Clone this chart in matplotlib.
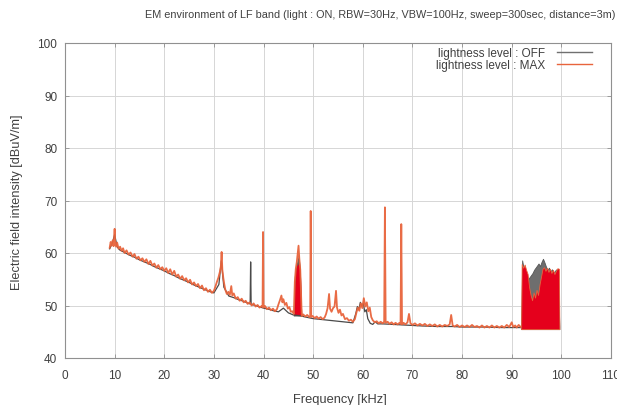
import matplotlib
matplotlib.use("Agg")
import matplotlib.pyplot as plt
from matplotlib.lines import Line2D

# ---------------- data ----------------
title = "EM environment of LF band (light : ON, RBW=30Hz, VBW=100Hz, sweep=300sec, distance=3m)"
xlabel = "Frequency [kHz]"
ylabel = "Electric field intensity [dBuV/m]"
legend_labels = ["lightness level : OFF", "lightness level : MAX"]
xticks = [0, 10, 20, 30, 40, 50, 60, 70, 80, 90, 100, 110]
yticks = [40, 50, 60, 70, 80, 90, 100]

# MAX trace (orange)
max_freq = [
    9.0, 9.2, 9.4, 9.6, 9.8, 9.9, 10.0, 10.1, 10.3, 10.5, 10.8, 11.1, 11.4, 11.7,
    12.0, 12.4, 12.8, 13.2, 13.6, 14.0, 14.4, 14.8, 15.2, 15.6, 16.0, 16.4, 16.8,
    17.2, 17.6, 18.0, 18.4, 18.8, 19.2, 19.6, 20.0, 20.4, 20.8, 21.2, 21.6, 22.0,
    22.4, 22.8, 23.2, 23.6, 24.0, 24.4, 24.8, 25.2, 25.6, 26.0, 26.4, 26.8, 27.2,
    27.6, 28.0, 28.4, 28.8, 29.2, 29.6, 30.0, 30.3, 30.6, 30.9, 31.2, 31.4, 31.55,
    31.7, 31.9, 32.1, 32.3, 32.6, 32.9, 33.2, 33.5, 33.7, 34.0, 34.4, 34.8, 35.2,
    35.6, 36.0, 36.4, 36.8, 37.2, 37.6, 38.0, 38.4, 38.8, 39.2, 39.6, 39.8, 39.9,
    40.0, 40.3, 40.7, 41.1, 41.5, 41.9, 42.3, 42.7, 43.0, 43.3, 43.6, 43.8, 44.0,
    44.3, 44.6, 44.9, 45.2, 45.5, 45.8, 46.1, 46.3, 46.5, 46.7, 46.9, 47.05, 47.2,
    47.4, 47.6, 47.7, 48.0, 48.4, 48.8, 49.2, 49.4, 49.5, 49.6, 49.9, 50.3, 50.7,
    51.1, 51.5, 51.9, 52.3, 52.6, 52.9, 53.2, 53.4, 53.7, 54.0, 54.3, 54.6, 54.8,
    55.1, 55.4, 55.7, 56.0, 56.4, 56.8, 57.2, 57.6, 58.0, 58.4, 58.7, 59.0, 59.3,
    59.6, 59.9, 60.2, 60.5, 60.8, 61.1, 61.4, 61.7, 62.0, 62.4, 62.8, 63.2, 63.6,
    64.0, 64.3, 64.45, 64.6, 65.0, 65.4, 65.8, 66.2, 66.6, 67.0, 67.4, 67.6, 67.75,
    67.9, 68.2, 68.6, 69.0, 69.3, 69.6, 70.0, 70.5, 71.0, 71.5, 72.0, 72.5, 73.0,
    73.5, 74.0, 74.5, 75.0, 75.5, 76.0, 76.5, 77.0, 77.5, 77.8, 78.1, 78.5, 79.0,
    79.5, 80.0, 80.5, 81.0, 81.5, 82.0, 82.5, 83.0, 83.5, 84.0, 84.5, 85.0, 85.5,
    86.0, 86.5, 87.0, 87.5, 88.0, 88.5, 89.0, 89.5, 90.0, 90.3, 90.7, 91.0, 91.4,
    91.8,
]
max_level = [
    61.0, 62.1, 61.4, 62.4, 61.3, 62.8, 64.6, 62.0, 61.2, 62.0, 60.8, 61.2, 60.4, 60.9,
    60.0, 60.5, 59.7, 60.1, 59.3, 59.8, 58.9, 59.3, 58.6, 59.0, 58.3, 58.8, 57.9,
    58.5, 57.6, 58.0, 57.2, 57.7, 56.9, 57.3, 56.6, 57.1, 56.2, 56.9, 55.9, 56.6,
    55.5, 55.9, 55.1, 55.6, 54.8, 55.2, 54.4, 54.9, 54.0, 54.4, 53.7, 54.1, 53.3,
    53.8, 52.9, 53.3, 52.6, 53.0, 52.4, 52.8, 53.6, 54.5, 55.3, 56.4, 57.5, 60.2,
    56.8, 55.2, 54.0, 53.0, 52.2, 52.6, 52.0, 53.7, 51.9, 52.3, 51.3, 51.6, 50.9,
    51.3, 50.6, 50.9, 50.3, 50.6, 50.0, 50.4, 49.8, 50.1, 49.6, 49.9, 49.7, 64.0,
    49.6, 49.9, 49.3, 49.6, 49.1, 49.4, 48.9, 49.3, 50.2, 51.0, 51.9, 50.6, 51.2,
    50.1, 50.5, 49.4, 49.7, 48.8, 48.9, 48.4, 54.5, 57.0, 58.3, 60.0, 61.4, 59.0,
    56.8, 51.0, 48.0, 48.3, 47.9, 48.2, 47.8, 48.0, 68.0, 47.8, 48.0, 47.6, 47.9,
    47.5, 47.8, 47.4, 47.7, 48.4, 49.5, 52.2, 49.4, 48.8, 49.5, 49.8, 52.8, 49.6,
    48.6, 49.2, 48.1, 48.4, 47.4, 47.6, 47.1, 47.3, 46.9, 47.4, 48.6, 49.6, 49.0,
    50.4, 49.5, 51.4, 49.8, 50.6, 48.9, 49.6, 47.8, 47.2, 46.8, 47.0, 46.6, 46.9,
    46.6, 46.9, 68.7, 46.7, 46.9, 46.5, 46.8, 46.4, 46.7, 46.4, 46.7, 46.5, 65.5,
    46.4, 46.7, 46.4, 46.8, 48.4, 46.6, 46.3, 46.6, 46.2, 46.5, 46.2, 46.5, 46.1,
    46.4, 46.1, 46.4, 46.0, 46.3, 46.0, 46.3, 46.1, 46.4, 48.2, 46.2, 46.0, 46.3,
    45.9, 46.2, 45.9, 46.2, 45.9, 46.3, 45.9, 46.1, 45.8, 46.2, 45.8, 46.1, 45.8,
    46.2, 45.8, 46.1, 45.8, 46.1, 45.8, 46.3, 45.9, 46.8, 45.9, 46.2, 45.8, 46.3,
    45.9,
]

# OFF trace (grey)
off_freq = [
    9.0, 9.5, 10.0, 10.5, 11.0, 12.0, 13.0, 14.0, 15.0, 16.0, 17.0, 18.0, 19.0,
    20.0, 21.0, 22.0, 23.0, 24.0, 25.0, 26.0, 27.0, 28.0, 29.0, 30.0, 31.0, 31.5,
    32.0, 33.0, 34.0, 35.0, 36.0, 37.0, 37.3, 37.4, 37.5, 38.0, 39.0, 40.0, 41.0,
    42.0, 43.0, 44.0, 45.0, 46.0, 47.8, 48.0, 49.0, 50.0, 51.0, 52.0, 53.0, 54.0,
    55.0, 56.0, 57.0, 58.0, 58.6, 58.9, 59.2, 59.5, 59.8, 60.1, 60.4, 60.7, 61.0,
    61.5, 62.0, 62.5, 63.0, 64.0, 66.0, 68.0, 70.0, 72.0, 75.0, 78.0, 80.0, 84.0,
    88.0, 91.8,
]
off_level = [
    60.8, 61.8, 63.5, 61.2, 60.6, 60.1, 59.6, 59.2, 58.7, 58.3, 57.9, 57.4, 57.0,
    56.6, 56.1, 55.7, 55.2, 54.8, 54.4, 53.9, 53.5, 53.1, 52.7, 52.4, 54.0, 58.5,
    53.5, 51.8, 51.5, 51.1, 50.8, 50.4, 50.3, 58.3, 50.2, 50.1, 49.8, 49.5, 49.3,
    49.0, 48.8, 49.5, 48.6, 48.2, 48.0, 47.9, 47.7, 47.5, 47.4, 47.3, 47.2, 47.1,
    47.0, 46.9, 46.8, 46.7, 48.5, 49.8, 49.2, 50.6, 49.9, 50.4, 48.8, 49.2, 47.5,
    46.6, 46.4, 46.9, 46.5, 46.5, 46.4, 46.3, 46.2, 46.1, 46.0, 46.0, 45.9, 45.9,
    45.8, 45.8,
]

# dense (filled-looking) bands: lower floor and upper envelope
max_band1_freq = [46.1, 46.3, 46.5, 46.7, 46.9, 47.05, 47.2, 47.4, 47.6, 47.7]
max_band1_top = [48.4, 54.5, 57.0, 57.6, 57.8, 58.0, 57.6, 56.8, 51.0, 48.0]
max_band1_floor = [48.2, 48.2, 48.2, 48.2, 48.1, 48.1, 48.1, 48.1, 48.0, 48.0]

off_band1_freq = [46.0, 46.2, 46.5, 46.8, 47.1, 47.4, 47.7]
off_band1_top = [48.2, 55.5, 57.5, 58.8, 59.8, 57.0, 48.0]
off_band1_floor = [48.0, 48.0, 48.0, 48.0, 48.0, 48.0, 48.0]

max_band2_freq = [91.9, 92.0, 92.3, 92.6, 92.9, 93.2, 93.5, 93.8, 94.1, 94.4,
                  94.7, 95.0, 95.3, 95.6, 95.9, 96.2, 96.5, 96.8, 97.1, 97.4,
                  97.7, 98.0, 98.3, 98.6, 98.9, 99.2, 99.5, 99.6]
max_band2_top = [46.0, 57.9, 57.2, 57.8, 56.8, 56.0, 53.5, 52.0, 51.0, 52.5,
                 51.5, 53.0, 52.0, 54.0, 55.5, 57.0, 57.3, 56.6, 57.2, 56.4,
                 57.0, 56.2, 56.8, 56.0, 56.6, 57.1, 57.0, 46.0]
band2_floor = 45.5

off_band2_freq = [91.9, 92.1, 92.4, 92.7, 93.0, 93.3, 93.6, 93.9, 94.2, 94.5,
                  94.8, 95.1, 95.4, 95.7, 96.0, 96.3, 96.6, 96.9, 97.2, 97.5,
                  97.8, 98.1, 98.4, 98.7, 99.0, 99.3, 99.6]
off_band2_top = [46.2, 58.6, 57.0, 56.5, 55.8, 55.0, 55.4, 55.8, 56.2, 56.8,
                 57.2, 57.6, 58.0, 57.5, 58.3, 58.9, 58.2, 57.4, 56.8, 57.2,
                 56.5, 56.9, 56.2, 56.6, 56.9, 56.0, 46.0]

# ---------------- style ----------------
off_color = "#4a4a4a"
max_color = "#e8643c"
band_color = "#e5001c"
text_color = "#404040"
font = ["Liberation Sans", "DejaVu Sans"]
plt.rcParams["font.family"] = font

W, H = 617, 406
fig = plt.figure(figsize=(W / 100, H / 100), dpi=100)
ax = fig.add_axes([65 / W, 1 - 359 / H, (611 - 65) / W, (359 - 44) / H])

ax.grid(True, color="#d6d6d6", linewidth=0.7)
ax.set_axisbelow(True)

# OFF
ax.fill_between(off_band1_freq, off_band1_floor, off_band1_top, color="#5a5a5a", linewidth=0)
ax.fill_between(off_band2_freq, band2_floor, off_band2_top, color="#6e6e6e", linewidth=0.6,
                edgecolor="#555555")
ax.plot(off_freq, off_level, color=off_color, linewidth=0.9)

# MAX
ax.plot(max_freq, max_level, color=max_color, linewidth=1.3, alpha=0.95)
ax.fill_between(max_band1_freq, max_band1_floor, max_band1_top, color=band_color, linewidth=0)
ax.fill_between(max_band2_freq, band2_floor, max_band2_top, color=band_color, linewidth=0.6,
                edgecolor="#e8643c")

ax.set_xlim(0, 110)
ax.set_ylim(40, 100)
ax.set_xticks(xticks)
ax.set_yticks(yticks)
ax.tick_params(direction="in", length=3, width=0.6, color="#909090",
               top=True, right=True, labelsize=8.5, labelcolor=text_color)
ax.tick_params(axis="x", pad=8)
ax.tick_params(axis="y", pad=5.5)
for s in ax.spines.values():
    s.set_color("#909090")
    s.set_linewidth(0.8)

fig.text(145 / W, 1 - 15 / H, title, fontsize=7.8, color=text_color,
         ha="left", va="center")
fig.text(340 / W, 1 - 400 / H, xlabel, fontsize=9.3, color=text_color,
         ha="center", va="center")
fig.text(17 / W, 1 - 202 / H, ylabel, fontsize=9.2, color=text_color,
         ha="center", va="center", rotation=90)

handles = [Line2D([], [], color="#707070", linewidth=1.0),
           Line2D([], [], color=max_color, linewidth=1.0)]
ax.legend(handles, legend_labels, loc="upper right", frameon=False, markerfirst=False,
          fontsize=8.5, handlelength=3.0, handletextpad=1.0, labelspacing=0.0,
          borderaxespad=0.0, borderpad=0.0, labelcolor=text_color,
          bbox_to_anchor=((592 - 65) / 546, (359 - 48) / 315))

fig.savefig("out.png", dpi=100)
